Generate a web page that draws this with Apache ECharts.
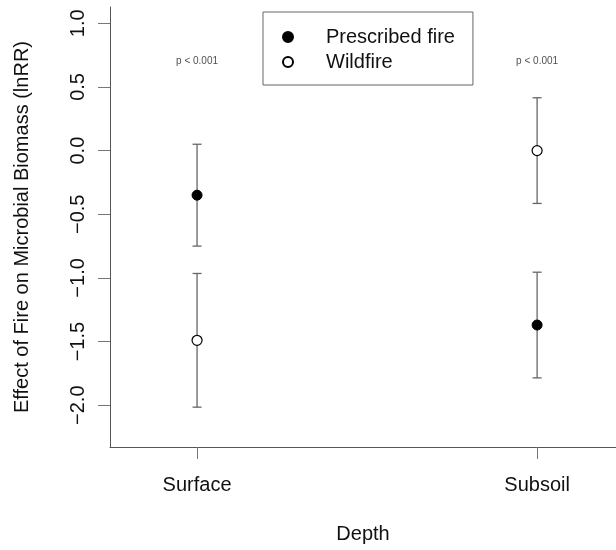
<!DOCTYPE html>
<html><head><meta charset="utf-8">
<script src="https://cdn.jsdelivr.net/npm/echarts@6/dist/echarts.min.js"></script>
<style>html,body{margin:0;padding:0;background:#fff}#c{width:616px;height:550px}</style>
</head><body><div id="c"></div>
<script>
// Data
const depthCategories = ['Surface', 'Subsoil'];
const depthPositions = [1, 2];
const prescribedMean = [-0.35, -1.37];
const prescribedErr = [0.40, 0.415];
const wildfireMean = [-1.49, 0.0];
const wildfireErr = [0.525, 0.415];
const pValueLabels = ['p < 0.001', 'p < 0.001'];
const pValueY = [0.7, 0.7];
const yTicks = [-2.0, -1.5, -1.0, -0.5, 0.0, 0.5, 1.0];

const FONT = 'Liberation Sans, Arial, Helvetica, sans-serif';
const fmt = v => (v < 0 ? '\u2212' : '') + Math.abs(v).toFixed(1);

function errData(means, errs) {
  return depthPositions.map((x, i) => [x, means[i] - errs[i], means[i] + errs[i]]);
}
function errRender(params, api) {
  const x = api.value(0);
  const lo = api.coord([x, api.value(1)]);
  const hi = api.coord([x, api.value(2)]);
  const w = 4.5;
  const st = { stroke: '#666', lineWidth: 1.3 };
  return {
    type: 'group',
    children: [
      { type: 'line', shape: { x1: lo[0], y1: lo[1], x2: hi[0], y2: hi[1] }, style: st },
      { type: 'line', shape: { x1: lo[0] - w, y1: lo[1], x2: lo[0] + w, y2: lo[1] }, style: st },
      { type: 'line', shape: { x1: hi[0] - w, y1: hi[1], x2: hi[0] + w, y2: hi[1] }, style: st }
    ]
  };
}

const chart = echarts.init(document.getElementById('c'));
chart.setOption({
  animation: false,
  backgroundColor: '#fff',
  grid: { left: 110, top: 7, right: 0, bottom: 103, containLabel: false },
  legend: {
    left: 263, top: 12, orient: 'vertical',
    data: ['Prescribed fire', 'Wildfire'],
    borderColor: '#666', borderWidth: 1,
    padding: [15, 18, 13, 19],
    itemGap: 5, itemWidth: 10, itemHeight: 10,
    textStyle: { fontFamily: FONT, fontSize: 20, color: '#111', padding: [0, 0, 0, 28] },
    selectedMode: false
  },
  xAxis: {
    type: 'value', min: 0.744, max: 2.232,
    name: 'Depth', nameLocation: 'middle', nameGap: 77,
    nameTextStyle: { fontFamily: FONT, fontSize: 20, color: '#111' },
    axisLine: { show: true, onZero: false, lineStyle: { color: '#555', width: 1 } },
    axisTick: { show: true, length: 12, customValues: depthPositions, lineStyle: { color: '#777' } },
    axisLabel: {
      customValues: depthPositions, margin: 28,
      formatter: v => depthCategories[depthPositions.indexOf(v)] || '',
      fontFamily: FONT, fontSize: 20, color: '#111'
    },
    splitLine: { show: false }
  },
  yAxis: {
    type: 'value', min: -2.328, max: 1.128,
    name: 'Effect of Fire on Microbial Biomass (lnRR)', nameLocation: 'middle', nameGap: 78, nameRotate: 90,
    nameTextStyle: { fontFamily: FONT, fontSize: 20, color: '#111' },
    axisLine: { show: true, onZero: false, lineStyle: { color: '#555', width: 1 } },
    axisTick: { show: true, length: 12, customValues: yTicks, lineStyle: { color: '#777' } },
    axisLabel: {
      customValues: yTicks, rotate: 90, margin: 22,
      formatter: fmt,
      fontFamily: FONT, fontSize: 20, color: '#111'
    },
    splitLine: { show: false }
  },
  series: [
    { type: 'custom', name: 'errP', renderItem: errRender, data: errData(prescribedMean, prescribedErr), z: 1, silent: true },
    { type: 'custom', name: 'errW', renderItem: errRender, data: errData(wildfireMean, wildfireErr), z: 1, silent: true },
    {
      type: 'scatter', name: 'Prescribed fire', symbol: 'circle', symbolSize: 10, z: 3,
      itemStyle: { color: '#000', borderColor: '#000', borderWidth: 1, opacity: 1 },
      data: depthPositions.map((x, i) => [x, prescribedMean[i]])
    },
    {
      type: 'scatter', name: 'Wildfire', symbol: 'circle', symbolSize: 10, z: 3,
      itemStyle: { color: '#fff', borderColor: '#000', borderWidth: 1.2, opacity: 1 },
      data: depthPositions.map((x, i) => [x, wildfireMean[i]])
    },
    {
      type: 'scatter', name: 'pvals', symbolSize: 0, silent: true,
      data: depthPositions.map((x, i) => ({ value: [x, pValueY[i]], name: pValueLabels[i] })),
      label: { show: true, position: 'inside', formatter: p => p.name, fontFamily: FONT, fontSize: 10, color: '#222' }
    }
  ]
});
</script></body></html>
